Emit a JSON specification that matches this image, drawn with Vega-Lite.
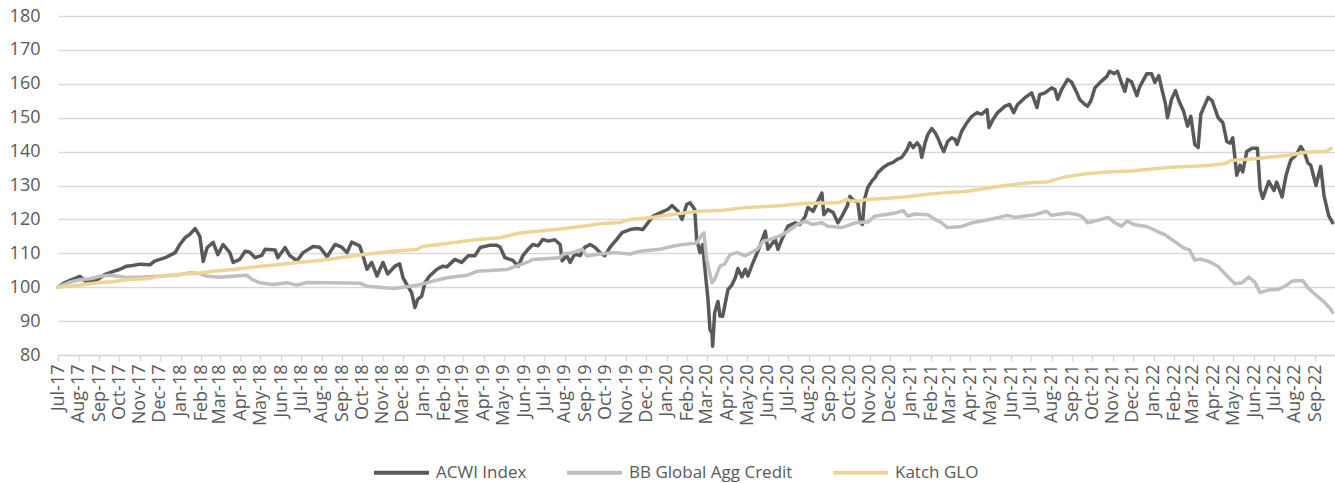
{
"$schema":"https://vega.github.io/schema/vega-lite/v6.json",
"width":1277,"height":339,
"autosize":{"type":"none"},
"padding":{"left":58,"top":16,"right":0,"bottom":128},
"background":"white",
"config":{"view":{"stroke":null},"font":"Open Sans"},
"datasets":{
"acwi":[{"d":"2017-07-01","v":100},{"d":"2017-07-10","v":101.2},{"d":"2017-07-19","v":102},{"d":"2017-08-03","v":103.2},{"d":"2017-08-11","v":101.8},{"d":"2017-08-26","v":101.8},{"d":"2017-09-10","v":103.8},{"d":"2017-09-20","v":104.5},{"d":"2017-10-02","v":105.3},{"d":"2017-10-12","v":106.2},{"d":"2017-10-21","v":106.4},{"d":"2017-11-01","v":106.8},{"d":"2017-11-16","v":106.6},{"d":"2017-11-23","v":107.7},{"d":"2017-12-09","v":108.7},{"d":"2017-12-24","v":110.2},{"d":"2017-12-31","v":112.6},{"d":"2018-01-08","v":114.6},{"d":"2018-01-15","v":115.6},{"d":"2018-01-23","v":117.3},{"d":"2018-01-30","v":115},{"d":"2018-02-04","v":107.6},{"d":"2018-02-10","v":111.7},{"d":"2018-02-19","v":113.2},{"d":"2018-02-26","v":109.6},{"d":"2018-03-06","v":112.6},{"d":"2018-03-16","v":110.2},{"d":"2018-03-21","v":107.3},{"d":"2018-03-31","v":108.2},{"d":"2018-04-08","v":110.6},{"d":"2018-04-15","v":110.3},{"d":"2018-04-23","v":108.7},{"d":"2018-05-03","v":109.4},{"d":"2018-05-08","v":111.2},{"d":"2018-05-23","v":111},{"d":"2018-05-27","v":108.7},{"d":"2018-06-07","v":111.7},{"d":"2018-06-14","v":109.3},{"d":"2018-06-25","v":107.8},{"d":"2018-07-04","v":110.2},{"d":"2018-07-19","v":112},{"d":"2018-07-29","v":111.8},{"d":"2018-08-09","v":109},{"d":"2018-08-21","v":112.6},{"d":"2018-08-31","v":111.8},{"d":"2018-09-08","v":110.2},{"d":"2018-09-15","v":113.3},{"d":"2018-09-27","v":112.2},{"d":"2018-10-02","v":109.2},{"d":"2018-10-08","v":105.3},{"d":"2018-10-15","v":107.3},{"d":"2018-10-23","v":103.3},{"d":"2018-11-01","v":107.3},{"d":"2018-11-08","v":103.9},{"d":"2018-11-19","v":106.2},{"d":"2018-11-26","v":106.9},{"d":"2018-12-01","v":102.8},{"d":"2018-12-08","v":100.3},{"d":"2018-12-14","v":98.4},{"d":"2018-12-19","v":94},{"d":"2018-12-23","v":96.4},{"d":"2018-12-29","v":97.3},{"d":"2019-01-03","v":101.3},{"d":"2019-01-10","v":103.3},{"d":"2019-01-21","v":105.3},{"d":"2019-01-30","v":106.2},{"d":"2019-02-05","v":106},{"d":"2019-02-17","v":108.2},{"d":"2019-02-27","v":107.3},{"d":"2019-03-09","v":109.3},{"d":"2019-03-19","v":109.3},{"d":"2019-03-27","v":111.7},{"d":"2019-04-11","v":112.4},{"d":"2019-04-21","v":112.4},{"d":"2019-04-26","v":111.8},{"d":"2019-05-03","v":108.7},{"d":"2019-05-15","v":107.9},{"d":"2019-05-23","v":106.2},{"d":"2019-05-30","v":109.3},{"d":"2019-06-07","v":111.2},{"d":"2019-06-14","v":112.6},{"d":"2019-06-22","v":112.2},{"d":"2019-06-29","v":114.1},{"d":"2019-07-07","v":113.6},{"d":"2019-07-17","v":114},{"d":"2019-07-25","v":112.6},{"d":"2019-07-28","v":107.8},{"d":"2019-08-04","v":109.3},{"d":"2019-08-09","v":107.3},{"d":"2019-08-16","v":109.8},{"d":"2019-08-24","v":109.3},{"d":"2019-08-31","v":111.8},{"d":"2019-09-08","v":112.6},{"d":"2019-09-15","v":111.8},{"d":"2019-09-23","v":110.2},{"d":"2019-09-30","v":109.3},{"d":"2019-10-08","v":111.8},{"d":"2019-10-18","v":114.1},{"d":"2019-10-26","v":116.1},{"d":"2019-11-07","v":117},{"d":"2019-11-17","v":117.3},{"d":"2019-11-26","v":117},{"d":"2019-12-04","v":119},{"d":"2019-12-11","v":120.9},{"d":"2019-12-22","v":121.9},{"d":"2020-01-03","v":123},{"d":"2020-01-09","v":124.1},{"d":"2020-01-18","v":122.4},{"d":"2020-01-24","v":120},{"d":"2020-01-31","v":124.4},{"d":"2020-02-05","v":124.9},{"d":"2020-02-12","v":123},{"d":"2020-02-15","v":114.1},{"d":"2020-02-20","v":110.2},{"d":"2020-02-24","v":112.6},{"d":"2020-02-27","v":106.2},{"d":"2020-03-03","v":96.4},{"d":"2020-03-06","v":87.5},{"d":"2020-03-09","v":86.5},{"d":"2020-03-10","v":82.6},{"d":"2020-03-13","v":92.5},{"d":"2020-03-18","v":95.8},{"d":"2020-03-21","v":91.5},{"d":"2020-03-25","v":91.4},{"d":"2020-04-02","v":99.3},{"d":"2020-04-08","v":100.7},{"d":"2020-04-13","v":102.8},{"d":"2020-04-17","v":105.5},{"d":"2020-04-23","v":103},{"d":"2020-04-28","v":105.3},{"d":"2020-05-02","v":103.3},{"d":"2020-05-08","v":106.5},{"d":"2020-05-16","v":110.2},{"d":"2020-05-20","v":112.2},{"d":"2020-05-28","v":116.5},{"d":"2020-06-01","v":111.2},{"d":"2020-06-12","v":114.1},{"d":"2020-06-16","v":111.2},{"d":"2020-06-22","v":114.1},{"d":"2020-07-01","v":118},{"d":"2020-07-12","v":119},{"d":"2020-07-19","v":118.5},{"d":"2020-07-27","v":120.9},{"d":"2020-07-31","v":123.5},{"d":"2020-08-08","v":122.4},{"d":"2020-08-14","v":125},{"d":"2020-08-21","v":127.8},{"d":"2020-08-24","v":121.4},{"d":"2020-08-30","v":122.9},{"d":"2020-09-07","v":122},{"d":"2020-09-14","v":119},{"d":"2020-09-20","v":120.9},{"d":"2020-09-28","v":123.9},{"d":"2020-10-02","v":126.8},{"d":"2020-10-06","v":125.9},{"d":"2020-10-14","v":125},{"d":"2020-10-18","v":119.1},{"d":"2020-10-21","v":118.5},{"d":"2020-10-24","v":125.9},{"d":"2020-10-29","v":129.4},{"d":"2020-11-04","v":131.3},{"d":"2020-11-09","v":132.4},{"d":"2020-11-13","v":133.8},{"d":"2020-11-21","v":135.3},{"d":"2020-11-28","v":136.2},{"d":"2020-12-06","v":136.8},{"d":"2020-12-12","v":137.7},{"d":"2020-12-19","v":138.3},{"d":"2020-12-27","v":140.6},{"d":"2020-12-31","v":142.6},{"d":"2021-01-05","v":141.2},{"d":"2021-01-11","v":142.6},{"d":"2021-01-15","v":141.5},{"d":"2021-01-18","v":138.3},{"d":"2021-01-23","v":142.6},{"d":"2021-01-27","v":145},{"d":"2021-02-02","v":146.8},{"d":"2021-02-07","v":145.6},{"d":"2021-02-11","v":144.1},{"d":"2021-02-17","v":141.2},{"d":"2021-02-20","v":140},{"d":"2021-02-26","v":143},{"d":"2021-03-04","v":144.1},{"d":"2021-03-09","v":143.6},{"d":"2021-03-12","v":142.1},{"d":"2021-03-19","v":146},{"d":"2021-03-27","v":148.6},{"d":"2021-04-03","v":150.4},{"d":"2021-04-11","v":151.5},{"d":"2021-04-18","v":151},{"d":"2021-04-26","v":152.4},{"d":"2021-04-29","v":147.1},{"d":"2021-05-05","v":149.5},{"d":"2021-05-12","v":151.5},{"d":"2021-05-23","v":153.4},{"d":"2021-05-30","v":153.9},{"d":"2021-06-05","v":151.5},{"d":"2021-06-11","v":153.9},{"d":"2021-06-22","v":155.9},{"d":"2021-07-02","v":157.3},{"d":"2021-07-10","v":153},{"d":"2021-07-14","v":156.8},{"d":"2021-07-22","v":157.3},{"d":"2021-08-01","v":158.8},{"d":"2021-08-06","v":158.3},{"d":"2021-08-10","v":155.4},{"d":"2021-08-16","v":158.3},{"d":"2021-08-25","v":161.3},{"d":"2021-08-31","v":160.5},{"d":"2021-09-08","v":157.3},{"d":"2021-09-12","v":155.4},{"d":"2021-09-20","v":153.9},{"d":"2021-09-24","v":153.4},{"d":"2021-09-29","v":155},{"d":"2021-10-05","v":158.8},{"d":"2021-10-15","v":160.8},{"d":"2021-10-23","v":162.2},{"d":"2021-10-27","v":163.7},{"d":"2021-11-03","v":163},{"d":"2021-11-08","v":163.7},{"d":"2021-11-14","v":160.3},{"d":"2021-11-19","v":157.8},{"d":"2021-11-23","v":161.3},{"d":"2021-11-29","v":160.6},{"d":"2021-12-07","v":156.5},{"d":"2021-12-11","v":159},{"d":"2021-12-22","v":163},{"d":"2021-12-29","v":163},{"d":"2022-01-03","v":160.4},{"d":"2022-01-09","v":162.4},{"d":"2022-01-13","v":158.9},{"d":"2022-01-19","v":154},{"d":"2022-01-22","v":150},{"d":"2022-01-28","v":155.4},{"d":"2022-02-03","v":158},{"d":"2022-02-08","v":155},{"d":"2022-02-15","v":152},{"d":"2022-02-21","v":147.5},{"d":"2022-02-26","v":150.4},{"d":"2022-03-04","v":142.1},{"d":"2022-03-09","v":141.2},{"d":"2022-03-13","v":151},{"d":"2022-03-24","v":156},{"d":"2022-03-30","v":155},{"d":"2022-04-08","v":150},{"d":"2022-04-15","v":148.6},{"d":"2022-04-21","v":143},{"d":"2022-04-26","v":142.5},{"d":"2022-04-30","v":144.1},{"d":"2022-05-06","v":133},{"d":"2022-05-11","v":136},{"d":"2022-05-15","v":134},{"d":"2022-05-21","v":140},{"d":"2022-05-29","v":141},{"d":"2022-06-06","v":141},{"d":"2022-06-10","v":129},{"d":"2022-06-14","v":126.2},{"d":"2022-06-23","v":131.2},{"d":"2022-07-01","v":128.5},{"d":"2022-07-05","v":131},{"d":"2022-07-13","v":126.6},{"d":"2022-07-19","v":133},{"d":"2022-07-26","v":137.5},{"d":"2022-08-03","v":139},{"d":"2022-08-10","v":141.5},{"d":"2022-08-15","v":140},{"d":"2022-08-21","v":136.6},{"d":"2022-08-25","v":136},{"d":"2022-09-02","v":130},{"d":"2022-09-09","v":135.6},{"d":"2022-09-14","v":127},{"d":"2022-09-21","v":121.1},{"d":"2022-09-27","v":119}],
"bb":[{"d":"2017-07-01","v":100},{"d":"2017-07-19","v":101.5},{"d":"2017-08-03","v":102.2},{"d":"2017-08-18","v":102.5},{"d":"2017-09-02","v":103.2},{"d":"2017-09-17","v":103.5},{"d":"2017-10-12","v":102.9},{"d":"2017-11-01","v":102.9},{"d":"2017-11-26","v":103.2},{"d":"2017-12-26","v":103.5},{"d":"2018-01-15","v":104.3},{"d":"2018-01-30","v":104},{"d":"2018-02-10","v":103.2},{"d":"2018-03-01","v":102.9},{"d":"2018-03-21","v":103.2},{"d":"2018-04-11","v":103.5},{"d":"2018-04-18","v":102.3},{"d":"2018-04-30","v":101.3},{"d":"2018-05-20","v":100.8},{"d":"2018-06-10","v":101.3},{"d":"2018-06-25","v":100.6},{"d":"2018-07-10","v":101.4},{"d":"2018-08-18","v":101.3},{"d":"2018-09-27","v":101.2},{"d":"2018-10-08","v":100.3},{"d":"2018-10-27","v":100},{"d":"2018-11-16","v":99.6},{"d":"2018-12-07","v":100.1},{"d":"2018-12-27","v":100.8},{"d":"2019-01-15","v":101.8},{"d":"2019-02-05","v":102.8},{"d":"2019-03-07","v":103.5},{"d":"2019-03-22","v":104.7},{"d":"2019-05-06","v":105.2},{"d":"2019-06-05","v":107.3},{"d":"2019-06-14","v":108.2},{"d":"2019-07-25","v":108.7},{"d":"2019-07-30","v":109.8},{"d":"2019-08-13","v":110.2},{"d":"2019-08-27","v":111.2},{"d":"2019-09-03","v":109.2},{"d":"2019-09-23","v":109.8},{"d":"2019-10-13","v":110.2},{"d":"2019-11-07","v":109.8},{"d":"2019-11-22","v":110.6},{"d":"2019-12-22","v":111.2},{"d":"2020-01-10","v":112.1},{"d":"2020-01-25","v":112.6},{"d":"2020-02-15","v":113},{"d":"2020-02-23","v":115.5},{"d":"2020-02-26","v":116},{"d":"2020-03-01","v":108.2},{"d":"2020-03-09","v":101.3},{"d":"2020-03-13","v":102.3},{"d":"2020-03-21","v":106.2},{"d":"2020-03-28","v":106.8},{"d":"2020-04-05","v":109.6},{"d":"2020-04-16","v":110.2},{"d":"2020-04-28","v":109.2},{"d":"2020-05-16","v":111.2},{"d":"2020-05-25","v":113.6},{"d":"2020-06-04","v":114.1},{"d":"2020-06-19","v":115.1},{"d":"2020-07-01","v":116.5},{"d":"2020-07-15","v":118.5},{"d":"2020-07-27","v":119.5},{"d":"2020-08-06","v":118.5},{"d":"2020-08-21","v":119},{"d":"2020-08-30","v":118},{"d":"2020-09-20","v":117.6},{"d":"2020-10-10","v":119},{"d":"2020-10-29","v":119.2},{"d":"2020-11-08","v":120.9},{"d":"2020-11-23","v":121.4},{"d":"2020-12-09","v":121.9},{"d":"2020-12-21","v":122.6},{"d":"2020-12-28","v":121},{"d":"2021-01-08","v":121.6},{"d":"2021-01-27","v":121.4},{"d":"2021-02-07","v":120},{"d":"2021-02-17","v":119},{"d":"2021-02-25","v":117.6},{"d":"2021-03-17","v":117.8},{"d":"2021-04-03","v":119},{"d":"2021-04-18","v":119.5},{"d":"2021-05-12","v":120.5},{"d":"2021-05-27","v":121.2},{"d":"2021-06-07","v":120.6},{"d":"2021-07-07","v":121.4},{"d":"2021-07-24","v":122.4},{"d":"2021-08-01","v":121.2},{"d":"2021-08-25","v":121.9},{"d":"2021-09-10","v":121.4},{"d":"2021-09-17","v":120.6},{"d":"2021-09-24","v":119},{"d":"2021-10-05","v":119.5},{"d":"2021-10-25","v":120.6},{"d":"2021-11-04","v":119},{"d":"2021-11-14","v":118},{"d":"2021-11-22","v":119.5},{"d":"2021-12-04","v":118.4},{"d":"2021-12-22","v":117.9},{"d":"2022-01-06","v":116.5},{"d":"2022-01-17","v":115.6},{"d":"2022-02-01","v":113.6},{"d":"2022-02-16","v":111.5},{"d":"2022-02-24","v":111},{"d":"2022-03-04","v":108},{"d":"2022-03-13","v":108.3},{"d":"2022-03-26","v":107.5},{"d":"2022-04-08","v":106.1},{"d":"2022-04-18","v":104},{"d":"2022-05-03","v":101},{"d":"2022-05-14","v":101.3},{"d":"2022-05-24","v":103},{"d":"2022-06-02","v":101.5},{"d":"2022-06-10","v":98.4},{"d":"2022-06-23","v":99.2},{"d":"2022-07-07","v":99.3},{"d":"2022-07-19","v":100.5},{"d":"2022-07-28","v":101.8},{"d":"2022-08-13","v":102},{"d":"2022-08-21","v":99.8},{"d":"2022-08-28","v":98.5},{"d":"2022-09-06","v":97},{"d":"2022-09-15","v":95.5},{"d":"2022-09-23","v":93.8},{"d":"2022-09-27","v":92.5}],
"katch":[{"d":"2017-07-01","v":100},{"d":"2017-07-30","v":100.5},{"d":"2017-08-29","v":101.3},{"d":"2017-09-21","v":101.6},{"d":"2017-10-12","v":102.2},{"d":"2017-11-16","v":102.6},{"d":"2017-12-01","v":103.3},{"d":"2018-01-05","v":103.8},{"d":"2018-01-30","v":104.2},{"d":"2018-02-19","v":104.7},{"d":"2018-03-21","v":105.2},{"d":"2018-04-30","v":106.2},{"d":"2018-05-30","v":106.7},{"d":"2018-06-25","v":107.3},{"d":"2018-07-25","v":107.8},{"d":"2018-08-28","v":108.7},{"d":"2018-09-30","v":109.6},{"d":"2018-11-16","v":110.6},{"d":"2018-12-22","v":111.1},{"d":"2018-12-30","v":112},{"d":"2019-02-02","v":112.8},{"d":"2019-03-22","v":114.1},{"d":"2019-04-26","v":114.6},{"d":"2019-05-25","v":116},{"d":"2019-07-25","v":117.2},{"d":"2019-08-28","v":118},{"d":"2019-09-23","v":118.7},{"d":"2019-10-23","v":119.1},{"d":"2019-11-07","v":120},{"d":"2019-12-07","v":120.5},{"d":"2020-01-01","v":121.2},{"d":"2020-01-31","v":122},{"d":"2020-02-20","v":122.4},{"d":"2020-03-25","v":122.7},{"d":"2020-04-24","v":123.4},{"d":"2020-05-20","v":123.7},{"d":"2020-06-23","v":124.1},{"d":"2020-07-23","v":124.7},{"d":"2020-09-14","v":124.9},{"d":"2020-09-28","v":126},{"d":"2020-10-02","v":125.5},{"d":"2020-10-17","v":125.4},{"d":"2020-10-27","v":125.9},{"d":"2020-11-22","v":126.2},{"d":"2020-12-22","v":126.6},{"d":"2021-01-27","v":127.4},{"d":"2021-02-22","v":127.9},{"d":"2021-03-24","v":128.2},{"d":"2021-04-23","v":129.1},{"d":"2021-05-23","v":130},{"d":"2021-06-28","v":130.8},{"d":"2021-07-24","v":131},{"d":"2021-08-23","v":132.6},{"d":"2021-09-22","v":133.5},{"d":"2021-10-23","v":134},{"d":"2021-11-26","v":134.3},{"d":"2021-12-22","v":134.7},{"d":"2022-01-22","v":135.3},{"d":"2022-02-21","v":135.6},{"d":"2022-03-24","v":135.9},{"d":"2022-04-17","v":136.4},{"d":"2022-04-28","v":137.4},{"d":"2022-06-01","v":137.9},{"d":"2022-06-26","v":138.4},{"d":"2022-07-23","v":138.9},{"d":"2022-08-17","v":139.8},{"d":"2022-09-16","v":140},{"d":"2022-09-25","v":140.9}]
},
"encoding":{
"x":{"field":"d","type":"temporal",
 "scale":{"type":"utc","domain":[{"year":2017,"month":7,"date":1,"utc":true},{"year":2022,"month":9,"date":30,"hours":12,"utc":true}]},
 "axis":{"title":null,"format":"%b-%y","tickCount":{"interval":"month","step":1},"labelAngle":270,"labelAlign":"right","labelBaseline":"middle","labelFontSize":18,"labelColor":"#595959","labelFont":"Open Sans","labelOverlap":false,"labelPadding":3,"labelFlush":false,"labelBound":false,"grid":false,"domainColor":"#D9D9D9","domainWidth":1.5,"tickColor":"#D9D9D9","tickSize":6,"tickWidth":1.5}},
"y":{"field":"v","type":"quantitative",
 "scale":{"domain":[80,180],"nice":false,"zero":false},
 "axis":{"title":null,"tickCount":10,"grid":true,"gridColor":"#D9D9D9","gridWidth":1.5,"domain":false,"ticks":false,"labelPadding":18,"labelFontSize":18,"labelColor":"#595959","labelFont":"Open Sans"}}
},
"layer":[
{"data":{"name":"acwi"},"mark":{"type":"line","strokeWidth":3.5,"strokeJoin":"round","strokeCap":"round"},
 "encoding":{"color":{"datum":"ACWI Index","type":"nominal",
  "scale":{"domain":["ACWI Index","BB Global Agg Credit","Katch GLO"],"range":["#595959","#BFBFBF","#EDD597"]},
  "legend":{"orient":"none","legendX":314,"legendY":427,"direction":"horizontal","title":null,"symbolType":"stroke","symbolSize":3025,"symbolStrokeWidth":4,"labelFontSize":17,"labelFont":"Open Sans","labelColor":"#595959","labelOffset":5,"columnPadding":32,"padding":0,"labelLimit":400}}}},
{"data":{"name":"bb"},"mark":{"type":"line","strokeWidth":3.5,"strokeJoin":"round","strokeCap":"round"},
 "encoding":{"color":{"datum":"BB Global Agg Credit","type":"nominal"}}},
{"data":{"name":"katch"},"mark":{"type":"line","strokeWidth":3.5,"strokeJoin":"round","strokeCap":"round"},
 "encoding":{"color":{"datum":"Katch GLO","type":"nominal"}}}
]
}
